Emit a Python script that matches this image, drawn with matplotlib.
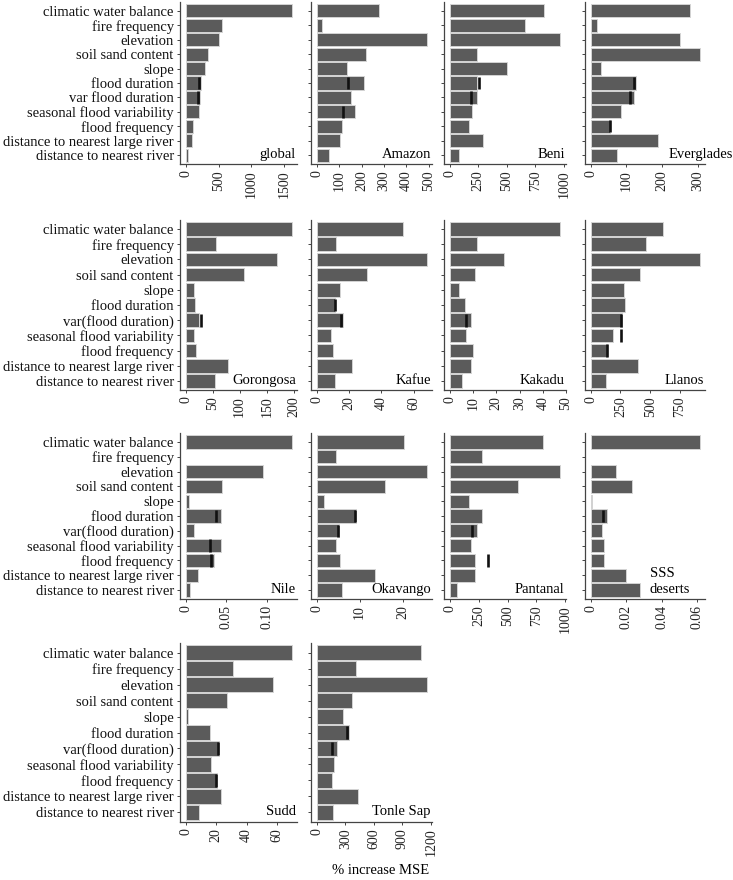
import numpy as np
import matplotlib
matplotlib.use("Agg")
import matplotlib.pyplot as plt

plt.rcParams['font.family'] = ['Liberation Serif', 'DejaVu Serif']

nan = np.nan

# predictor names (first row uses a slightly different label)
cats_top = ["climatic water balance", "fire frequency", "elevation", "soil sand content",
            "slope", "flood duration", "var flood duration", "seasonal flood variability",
            "flood frequency", "distance to nearest large river", "distance to nearest river"]
cats = ["climatic water balance", "fire frequency", "elevation", "soil sand content",
        "slope", "flood duration", "var(flood duration)", "seasonal flood variability",
        "flood frequency", "distance to nearest large river", "distance to nearest river"]

# % increase MSE per region (bars) and black markers
global_vals = [1610, 560, 500, 340, 300, 240, 225, 210, 110, 100, 35]
global_marks = [nan, nan, nan, nan, nan, 200, 190, nan, nan, nan, nan]
amazon_vals = [277, 22, 490, 222, 135, 210, 153, 171, 112, 105, 55]
amazon_marks = [nan, nan, nan, nan, nan, 140, nan, 117, nan, nan, nan]
beni_vals = [825, 659, 970, 240, 499, 237, 240, 193, 172, 291, 83]
beni_marks = [nan, nan, nan, nan, nan, 255, 190, nan, nan, nan, nan]
everglades_vals = [278, 18, 251, 305, 30, 126, 120, 84, 55, 188, 74]
everglades_marks = [nan, nan, nan, nan, nan, 122, 111, nan, 54, nan, nan]
gorongosa_vals = [196, 57, 168, 107, 16, 17, 25, 16, 20, 79, 54]
gorongosa_marks = [nan, nan, nan, nan, nan, nan, 29, nan, nan, nan, nan]
kafue_vals = [53.4, 12, 68, 31, 14.5, 11.4, 16, 8.9, 10.1, 21.7, 11.4]
kafue_marks = [nan, nan, nan, nan, nan, 11.2, 15.1, nan, nan, nan, nan]
kakadu_vals = [47.5, 11.8, 23.4, 10.8, 4.1, 6.7, 9.2, 7.0, 9.9, 9.3, 5.1]
kakadu_marks = [nan, nan, nan, nan, nan, nan, 6.8, nan, nan, nan, nan]
llanos_vals = [606, 464, 916, 411, 277, 285, 265, 187, 140, 394, 126]
llanos_marks = [nan, nan, nan, nan, nan, nan, 254, 254, 140, nan, nan]
nile_vals = [0.1298, 0, 0.095, 0.0444, 0.0044, 0.0432, 0.0107, 0.0432, 0.0352, 0.015, 0.005]
nile_marks = [nan, nan, nan, nan, nan, 0.0369, nan, 0.0293, 0.0305, nan, nan]
okavango_vals = [20.3, 4.5, 25.6, 16.0, 1.8, 9.2, 5.2, 4.4, 5.5, 13.5, 6.0]
okavango_marks = [nan, nan, nan, nan, nan, 8.9, 5.0, nan, nan, nan, nan]
pantanal_vals = [808, 280, 959, 587, 168, 283, 233, 186, 218, 221, 65]
pantanal_marks = [nan, nan, nan, nan, nan, nan, 192, nan, 330, nan, nan]
sss_vals = [0.0615, 0, 0.0142, 0.0234, 0.0006, 0.0092, 0.0062, 0.0077, 0.0075, 0.0202, 0.0277]
sss_marks = [nan, nan, nan, nan, nan, 0.0068, nan, nan, nan, nan, nan]
sudd_vals = [69.6, 31.3, 57.2, 27, 1.7, 16, 22, 17, 20.9, 23.4, 8.5]
sudd_marks = [nan, nan, nan, nan, nan, nan, 21.1, nan, 20, nan, nan]
tonle_vals = [1099, 413, 1155, 367, 276, 336, 208, 177, 159, 438, 170]
tonle_marks = [nan, nan, nan, nan, nan, 322, 159, nan, nan, nan, nan]

# x ticks per panel
global_ticks = [0, 500, 1000, 1500]
amazon_ticks = [0, 100, 200, 300, 400, 500]
beni_ticks = [0, 250, 500, 750, 1000]
everglades_ticks = [0, 100, 200, 300]
gorongosa_ticks = [0, 50, 100, 150, 200]
kafue_ticks = [0, 20, 40, 60]
kakadu_ticks = [0, 10, 20, 30, 40, 50]
llanos_ticks = [0, 250, 500, 750]
nile_ticks = [0, 0.05, 0.10]
okavango_ticks = [0, 10, 20]
pantanal_ticks = [0, 250, 500, 750, 1000]
sss_ticks = [0, 0.02, 0.04, 0.06]
sudd_ticks = [0, 20, 40, 60]
tonle_ticks = [0, 300, 600, 900, 1200]

panels = [
    ("global", global_vals, global_marks, global_ticks, None),
    ("Amazon", amazon_vals, amazon_marks, amazon_ticks, None),
    ("Beni", beni_vals, beni_marks, beni_ticks, None),
    ("Everglades", everglades_vals, everglades_marks, everglades_ticks, None),
    ("Gorongosa", gorongosa_vals, gorongosa_marks, gorongosa_ticks, None),
    ("Kafue", kafue_vals, kafue_marks, kafue_ticks, None),
    ("Kakadu", kakadu_vals, kakadu_marks, kakadu_ticks, None),
    ("Llanos", llanos_vals, llanos_marks, llanos_ticks, None),
    ("Nile", nile_vals, nile_marks, nile_ticks, ["0", "0.05", "0.10"]),
    ("Okavango", okavango_vals, okavango_marks, okavango_ticks, None),
    ("Pantanal", pantanal_vals, pantanal_marks, pantanal_ticks, None),
    ("SSS\ndeserts", sss_vals, sss_marks, sss_ticks, ["0", "0.02", "0.04", "0.06"]),
    ("Sudd", sudd_vals, sudd_marks, sudd_ticks, None),
    ("Tonle Sap", tonle_vals, tonle_marks, tonle_ticks, None),
]

W, H = 733, 880
cols_px = [(180, 297), (311, 432), (444, 566), (585, 705)]
rows_px = [(2, 164), (220, 390), (433, 599), (643, 822)]

fig = plt.figure(figsize=(W / 100, H / 100), dpi=100)
bar_col = '#5b5b5b'
y = np.arange(len(cats))

for i, (name, vals, marks, ticks, tlabels) in enumerate(panels):
    r, c = divmod(i, 4)
    l, rr = cols_px[c]
    t, b = rows_px[r]
    ax = fig.add_axes([l / W, 1 - b / H, (rr - l) / W, (b - t) / H])

    edges = ['#d4d4d4' if v > 0 else 'none' for v in vals]
    ax.barh(y, vals, height=0.9, color=bar_col, edgecolor=edges, linewidth=0.7)
    ax.vlines(marks, y - 0.42, y + 0.42, color='#111111', linewidth=1.9)

    hi = max(vals) * 1.05
    ax.set_xlim(-0.05 * hi, hi)
    ax.set_ylim(len(cats) - 0.4, -0.6)
    ax.set_xticks(ticks)
    ax.set_xticklabels(tlabels if tlabels else [str(v) for v in ticks],
                       rotation=90, fontsize=10, color='#222222')
    ax.set_yticks(y)
    if c == 0:
        ax.set_yticklabels(cats_top if r == 0 else cats, fontsize=10.5, color='#111111')
    else:
        ax.set_yticklabels([])
    for s in ['top', 'right']:
        ax.spines[s].set_visible(False)
    for s in ['left', 'bottom']:
        ax.spines[s].set_color('#444444')
        ax.spines[s].set_linewidth(0.9)
    ax.tick_params(length=2.5, width=0.7, color='#444444', pad=2)

    # region name in the lower right corner
    if name == "Everglades":
        ax.text(1.23, 0.02, name, transform=ax.transAxes, ha='right', va='bottom',
                fontsize=10.5, clip_on=False)
    elif name.startswith("SSS"):
        ax.text(0.54, 0.02, name, transform=ax.transAxes, ha='left', va='bottom',
                fontsize=10.5, multialignment='left', linespacing=1.3)
    else:
        ax.text(0.99, 0.02, name, transform=ax.transAxes, ha='right', va='bottom',
                fontsize=10.5)

fig.text(381 / W, 1 - 870 / H, "% increase MSE", ha='center', va='center', fontsize=10.5)

fig.savefig("out.png", dpi=100)
